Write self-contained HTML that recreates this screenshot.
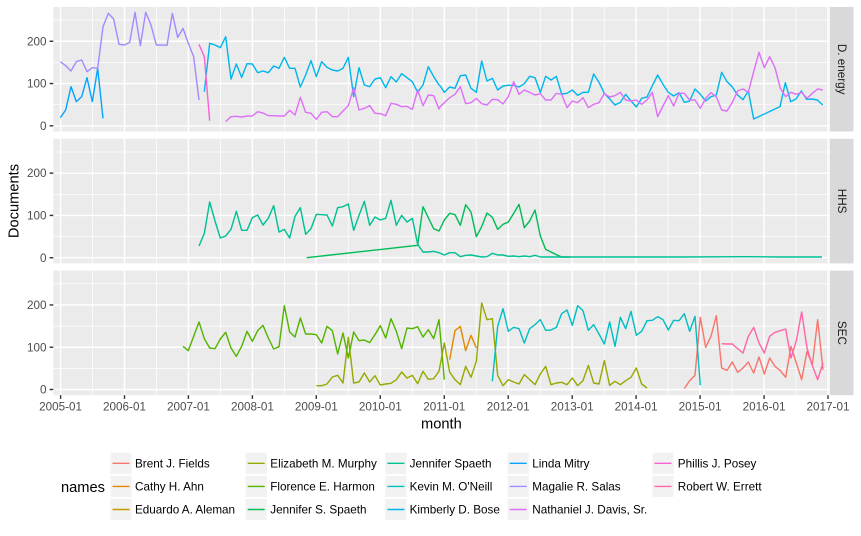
<!DOCTYPE html>
<html>
<head>
<meta charset="utf-8">
<style>
  html, body { margin: 0; padding: 0; background: #ffffff; }
  svg { display: block; }
  text { font-family: "Liberation Sans", "DejaVu Sans", sans-serif; }
  .d { fill: none; stroke-width: 1.42; stroke-linejoin: round; stroke-linecap: butt; vector-effect: non-scaling-stroke; }
  .gmaj { stroke: #ffffff; stroke-width: 1.42; }
  .gmin { stroke: #ffffff; stroke-width: 0.71; }
  .tick { stroke: #333333; stroke-width: 1.42; }
  .tl { font-size: 11.7px; fill: #4D4D4D; }
  .lt { font-size: 11.7px; fill: #000000; }
</style>
</head>
<body>
<svg width="861" height="536" viewBox="0 0 861 536" xmlns="http://www.w3.org/2000/svg">
  <rect x="0" y="0" width="861" height="536" fill="#ffffff"/>
  <defs>
    <g id="grid">
      <rect x="53.3" y="0" width="776.2" height="124.6" fill="#EBEBEB"/>
      <!-- minor horizontal -->
      <line class="gmin" x1="53.3" x2="829.5" y1="97.77" y2="97.77"/>
      <line class="gmin" x1="53.3" x2="829.5" y1="55.5" y2="55.5"/>
      <line class="gmin" x1="53.3" x2="829.5" y1="13.23" y2="13.23"/>
      <!-- minor vertical -->
      <line class="gmin" x1="92.5" x2="92.5" y1="0" y2="124.6"/>
      <line class="gmin" x1="156.4" x2="156.4" y1="0" y2="124.6"/>
      <line class="gmin" x1="220.4" x2="220.4" y1="0" y2="124.6"/>
      <line class="gmin" x1="284.4" x2="284.4" y1="0" y2="124.6"/>
      <line class="gmin" x1="348.3" x2="348.3" y1="0" y2="124.6"/>
      <line class="gmin" x1="412.3" x2="412.3" y1="0" y2="124.6"/>
      <line class="gmin" x1="476.2" x2="476.2" y1="0" y2="124.6"/>
      <line class="gmin" x1="540.2" x2="540.2" y1="0" y2="124.6"/>
      <line class="gmin" x1="604.2" x2="604.2" y1="0" y2="124.6"/>
      <line class="gmin" x1="668.1" x2="668.1" y1="0" y2="124.6"/>
      <line class="gmin" x1="732.1" x2="732.1" y1="0" y2="124.6"/>
      <line class="gmin" x1="796.0" x2="796.0" y1="0" y2="124.6"/>
      <!-- major horizontal -->
      <line class="gmaj" x1="53.3" x2="829.5" y1="118.9" y2="118.9"/>
      <line class="gmaj" x1="53.3" x2="829.5" y1="76.63" y2="76.63"/>
      <line class="gmaj" x1="53.3" x2="829.5" y1="34.36" y2="34.36"/>
      <!-- major vertical -->
      <line class="gmaj" x1="60.6" x2="60.6" y1="0" y2="124.6"/>
      <line class="gmaj" x1="124.5" x2="124.5" y1="0" y2="124.6"/>
      <line class="gmaj" x1="188.4" x2="188.4" y1="0" y2="124.6"/>
      <line class="gmaj" x1="252.4" x2="252.4" y1="0" y2="124.6"/>
      <line class="gmaj" x1="316.3" x2="316.3" y1="0" y2="124.6"/>
      <line class="gmaj" x1="380.3" x2="380.3" y1="0" y2="124.6"/>
      <line class="gmaj" x1="444.3" x2="444.3" y1="0" y2="124.6"/>
      <line class="gmaj" x1="508.2" x2="508.2" y1="0" y2="124.6"/>
      <line class="gmaj" x1="572.2" x2="572.2" y1="0" y2="124.6"/>
      <line class="gmaj" x1="636.1" x2="636.1" y1="0" y2="124.6"/>
      <line class="gmaj" x1="700.1" x2="700.1" y1="0" y2="124.6"/>
      <line class="gmaj" x1="764.1" x2="764.1" y1="0" y2="124.6"/>
      <line class="gmaj" x1="828.0" x2="828.0" y1="0" y2="124.6"/>
      <!-- y ticks -->
      <line class="tick" x1="49.6" x2="53.3" y1="118.9" y2="118.9"/>
      <line class="tick" x1="49.6" x2="53.3" y1="76.63" y2="76.63"/>
      <line class="tick" x1="49.6" x2="53.3" y1="34.36" y2="34.36"/>
      <text class="tl" x="46.5" y="123" text-anchor="end">0</text>
      <text class="tl" x="46.5" y="80.7" text-anchor="end">100</text>
      <text class="tl" x="46.5" y="38.4" text-anchor="end">200</text>
      <!-- strip -->
      <rect x="830" y="0" width="23.5" height="124.6" fill="#D9D9D9"/>
    </g>
  </defs>

  <use href="#grid" transform="translate(0,6.9)"/>
  <use href="#grid" transform="translate(0,138.8)"/>
  <use href="#grid" transform="translate(0,270.6)"/>

  <!-- strip labels -->
  <text x="841.5" y="69.2" font-size="11.7" fill="#1A1A1A" text-anchor="middle" dominant-baseline="central" transform="rotate(90 841.5 69.2)">D. energy</text>
  <text x="841.5" y="201.1" font-size="11.7" fill="#1A1A1A" text-anchor="middle" dominant-baseline="central" transform="rotate(90 841.5 201.1)">HHS</text>
  <text x="841.5" y="332.9" font-size="11.7" fill="#1A1A1A" text-anchor="middle" dominant-baseline="central" transform="rotate(90 841.5 332.9)">SEC</text>

  <!-- ===== Panel 1: D. energy ===== -->
  <g transform="translate(53,5) scale(0.333333)">
    <!-- Kimberly / Linda early (blue) -->
    <polyline class="d" stroke="#06A4FF" points="22,338 38,315 54,245 70,290 86,275 102,218 118,290 134,190 150,340"/>
    <polyline class="d" stroke="#00B6EB" points="454,260 470,115 486,120 502,128 518,95 534,222 550,177 566,217 582,176 598,177 614,203 630,198 646,203 662,183 678,190 694,157 710,190 726,190 742,246 758,210 774,167 790,215 806,170 822,187 838,195 854,198 870,190 886,157 902,275 918,188 934,240 950,245 966,222 982,218 998,248 1014,215 1030,231 1046,206 1062,218 1078,230 1094,262 1110,240 1126,185 1142,215 1158,240 1161,242"/>
    <!-- Magalie R. Salas -->
    <polyline class="d" stroke="#A58AFF" points="22,170 38,182 54,198 70,170 86,165 102,200 118,188 134,190 150,65 166,25 182,42 198,118 214,120 230,112 246,22 262,122 278,22 294,60 310,120 326,120 342,121 358,25 374,97 390,70 406,115 422,155 438,285"/>
    <!-- Nathaniel J. Davis, Sr. -->
    <polyline class="d" stroke="#DF70F8" points="518,350 534,335 550,334 566,336 582,333 598,333 614,320 630,324 646,332 662,332 678,333 694,333 710,316 726,330 742,277 758,322 774,325 790,343 806,322 822,320 838,335 854,335 870,318 886,302 902,248 918,315 934,310 950,302 966,325 982,326 998,332 1014,295 1030,298 1046,305 1062,304 1078,313 1094,255 1110,302 1126,270 1142,272 1158,312 1161,305"/>
    <!-- Phillis J. Posey -->
    <polyline class="d" stroke="#FB61D7" points="438,118 454,155 470,347"/>
  </g>
  <g transform="translate(440,5) scale(0.333333)">
    <polyline class="d" stroke="#00B6EB" points="0,242 13,262 29,246 45,250 61,212 77,210 93,250 109,262 125,168 141,228 157,220 173,255 189,243 205,241 221,241 237,246 253,236 269,214 285,218 301,262 317,214 333,225 349,214 365,267 381,265 397,255 413,271 429,262 445,262 461,207 477,232 493,265 509,282 525,300 541,292 557,268 573,288 589,306 605,280 621,276 637,242 653,210 669,238 685,262 701,273 717,263 733,292 749,288 765,252 781,268 797,288 813,275 829,270 845,202 861,230 877,246 893,270 909,284 925,258 941,342 1020,305 1036,233 1052,290 1068,282 1084,258 1100,283 1116,282 1132,285 1148,300"/>
    <polyline class="d" stroke="#DF70F8" points="0,305 13,293 29,278 45,268 61,245 77,296 93,293 109,280 125,296 141,300 157,283 173,284 189,297 205,275 221,230 237,268 253,255 269,262 285,270 301,266 317,285 333,285 349,265 365,268 381,308 397,288 413,293 429,278 445,308 461,298 477,293 493,266 509,276 525,272 541,262 557,285 573,288 589,285 605,298 621,285 637,262 653,335 669,303 685,272 701,303 717,265 733,265 749,285 765,285 781,310 797,280 813,263 829,275 845,315 861,318 877,292 893,258 909,252 925,262 941,200 957,142 973,188 989,155 1005,188 1021,250 1037,275 1053,262 1069,268 1085,262 1101,280 1117,265 1133,252 1148,255"/>
  </g>

  <!-- ===== Panel 2: HHS ===== -->
  <g transform="translate(180,136) scale(0.333333)">
    <!-- Jennifer S. Spaeth -->
    <polyline class="d" stroke="#00BC56" points="380,365 713,328 729,212 745,245 761,278 777,285 793,252 809,232 825,236 841,268 857,206 873,228 889,302 905,272 921,231 937,244 953,280 969,265 985,258 1001,232 1017,205 1033,275 1049,255 1065,222 1081,300 1097,340 1113,348 1129,356 1145,363 1170,363"/>
    <!-- Jennifer Spaeth -->
    <polyline class="d" stroke="#00C094" points="57,330 73,292 89,198 105,255 121,306 137,300 153,280 169,226 185,283 201,283 217,245 233,237 249,267 265,247 281,209 297,288 313,280 329,306 345,241 361,215 377,295 393,278 409,235 425,236 441,237 457,270 473,215 489,212 505,204 521,283 537,238 553,196 569,268 585,243 601,252 617,247 633,193 649,268 665,238 681,258 697,247 713,325 729,348 745,348 761,346 777,350 793,357 809,350 825,350 841,362 857,358 873,357 889,360 905,363 921,362 937,352 953,357 969,357 985,361 1001,360 1017,362 1033,360 1049,362 1065,358 1081,363 1097,363 1300,363 1500,363 1700,362 1800,363 1926,363"/>
  </g>

  <!-- ===== Panel 3: SEC ===== -->
  <g transform="translate(53,268) scale(0.333333)">
    <!-- Elizabeth M. Murphy -->
    <polyline class="d" stroke="#99A800" points="790,353 806,353 822,348 838,327 854,322 870,345 886,208 902,345 918,342 934,315 950,342 966,323 982,351 998,348 1014,346 1030,335 1046,312 1062,330 1078,322 1094,347 1110,310 1126,334 1142,332 1158,310"/>
    <!-- Florence E. Harmon -->
    <polyline class="d" stroke="#53B400" points="390,235 406,248 422,205 438,162 454,212 470,240 486,242 502,213 518,193 534,240 550,265 566,235 582,190 598,220 614,188 630,172 646,210 662,243 678,236 694,113 710,192 726,207 742,150 758,198 774,198 790,200 806,225 822,175 838,188 854,258 870,195 886,270 902,192 918,218 934,216 950,224 966,200 982,173 998,210 1014,152 1030,190 1046,242 1062,180 1078,182 1094,176 1110,207 1126,185 1142,212 1158,155 1174,335"/>
  </g>
  <g transform="translate(440,268) scale(0.333333)">
    <!-- Brent J. Fields -->
    <polyline class="d" stroke="#F8766D" points="733,362 749,338 765,322 781,148 797,238 813,205 829,143 845,300 861,307 877,282 893,313 909,300 925,282 941,315 957,267 973,318 989,270 1005,295 1021,308 1037,328 1053,235 1069,285 1085,335 1101,250 1117,290 1133,155 1149,305"/>
    <!-- Cathy H. Ahn -->
    <polyline class="d" stroke="#E38900" points="29,275 45,188 61,175 77,248 93,202 109,240"/>
    <!-- Elizabeth M. Murphy -->
    <polyline class="d" stroke="#99A800" points="-3,310 13,225 29,312 45,335 61,350 77,295 93,328 109,280 125,105 141,155 157,152 173,322 189,353 205,335 221,342 237,348 253,320 269,335 285,350 301,318 317,295 333,350 349,345 365,343 381,350 397,330 413,353 429,338 445,292 461,345 477,348 493,278 509,352 525,340 541,350 557,338 573,328 589,300 605,348 621,360"/>
    <!-- Kevin M. O'Neill -->
    <polyline class="d" stroke="#00BFC4" points="157,340 173,175 189,122 205,190 221,178 237,182 253,225 269,182 285,170 301,155 317,187 333,186 349,178 365,137 381,126 397,172 413,113 429,128 445,187 461,170 477,198 493,228 509,162 525,235 541,148 557,182 573,130 589,202 605,190 621,158 637,157 653,146 669,155 685,186 701,157 717,158 733,137 749,190 765,145 781,352"/>
    <!-- Robert W. Errett -->
    <polyline class="d" stroke="#FF66A8" points="845,227 861,228 877,228 893,242 909,255 925,205 941,178 957,225 973,255 989,205 1005,193 1021,188 1037,183 1053,270 1069,218 1085,132 1101,240 1117,293 1133,335 1149,285"/>
  </g>

  <!-- x axis ticks + labels -->
  <g>
    <line class="tick" x1="60.6" x2="60.6" y1="395.2" y2="398.9"/>
    <line class="tick" x1="124.5" x2="124.5" y1="395.2" y2="398.9"/>
    <line class="tick" x1="188.4" x2="188.4" y1="395.2" y2="398.9"/>
    <line class="tick" x1="252.4" x2="252.4" y1="395.2" y2="398.9"/>
    <line class="tick" x1="316.3" x2="316.3" y1="395.2" y2="398.9"/>
    <line class="tick" x1="380.3" x2="380.3" y1="395.2" y2="398.9"/>
    <line class="tick" x1="444.3" x2="444.3" y1="395.2" y2="398.9"/>
    <line class="tick" x1="508.2" x2="508.2" y1="395.2" y2="398.9"/>
    <line class="tick" x1="572.2" x2="572.2" y1="395.2" y2="398.9"/>
    <line class="tick" x1="636.1" x2="636.1" y1="395.2" y2="398.9"/>
    <line class="tick" x1="700.1" x2="700.1" y1="395.2" y2="398.9"/>
    <line class="tick" x1="764.1" x2="764.1" y1="395.2" y2="398.9"/>
    <line class="tick" x1="828.0" x2="828.0" y1="395.2" y2="398.9"/>
    <text class="tl" x="60.6" y="410.3" text-anchor="middle">2005-01</text>
    <text class="tl" x="124.5" y="410.3" text-anchor="middle">2006-01</text>
    <text class="tl" x="188.4" y="410.3" text-anchor="middle">2007-01</text>
    <text class="tl" x="252.4" y="410.3" text-anchor="middle">2008-01</text>
    <text class="tl" x="316.3" y="410.3" text-anchor="middle">2009-01</text>
    <text class="tl" x="380.3" y="410.3" text-anchor="middle">2010-01</text>
    <text class="tl" x="444.3" y="410.3" text-anchor="middle">2011-01</text>
    <text class="tl" x="508.2" y="410.3" text-anchor="middle">2012-01</text>
    <text class="tl" x="572.2" y="410.3" text-anchor="middle">2013-01</text>
    <text class="tl" x="636.1" y="410.3" text-anchor="middle">2014-01</text>
    <text class="tl" x="700.1" y="410.3" text-anchor="middle">2015-01</text>
    <text class="tl" x="764.1" y="410.3" text-anchor="middle">2016-01</text>
    <text class="tl" x="828.0" y="410.3" text-anchor="middle">2017-01</text>
  </g>

  <!-- axis titles -->
  <text x="441.4" y="428.3" font-size="14.67" fill="#000000" text-anchor="middle">month</text>
  <text x="18.5" y="201" font-size="14.67" fill="#000000" text-anchor="middle" transform="rotate(-90 18.5 201)">Documents</text>

  <!-- legend -->
  <text x="61" y="492.2" font-size="14.67" fill="#000000">names</text>
  <g>
    <!-- column 1 -->
    <rect x="110.4" y="452.7" width="21.2" height="21.2" fill="#F2F2F2"/>
    <line x1="112.5" x2="129.5" y1="463.3" y2="463.3" stroke="#F8766D" stroke-width="1.42"/>
    <text class="lt" x="135" y="467.4">Brent J. Fields</text>
    <rect x="110.4" y="475.8" width="21.2" height="21.2" fill="#F2F2F2"/>
    <line x1="112.5" x2="129.5" y1="486.4" y2="486.4" stroke="#E38900" stroke-width="1.42"/>
    <text class="lt" x="135" y="490.5">Cathy H. Ahn</text>
    <rect x="110.4" y="498.9" width="21.2" height="21.2" fill="#F2F2F2"/>
    <line x1="112.5" x2="129.5" y1="509.5" y2="509.5" stroke="#C49A00" stroke-width="1.42"/>
    <text class="lt" x="135" y="513.6">Eduardo A. Aleman</text>

    <!-- column 2 -->
    <rect x="245.6" y="452.7" width="21.2" height="21.2" fill="#F2F2F2"/>
    <line x1="247.7" x2="264.7" y1="463.3" y2="463.3" stroke="#99A800" stroke-width="1.42"/>
    <text class="lt" x="270.3" y="467.4">Elizabeth M. Murphy</text>
    <rect x="245.6" y="475.8" width="21.2" height="21.2" fill="#F2F2F2"/>
    <line x1="247.7" x2="264.7" y1="486.4" y2="486.4" stroke="#53B400" stroke-width="1.42"/>
    <text class="lt" x="270.3" y="490.5">Florence E. Harmon</text>
    <rect x="245.6" y="498.9" width="21.2" height="21.2" fill="#F2F2F2"/>
    <line x1="247.7" x2="264.7" y1="509.5" y2="509.5" stroke="#00BC56" stroke-width="1.42"/>
    <text class="lt" x="270.3" y="513.6">Jennifer S. Spaeth</text>

    <!-- column 3 -->
    <rect x="385.3" y="452.7" width="21.2" height="21.2" fill="#F2F2F2"/>
    <line x1="387.4" x2="404.4" y1="463.3" y2="463.3" stroke="#00C094" stroke-width="1.42"/>
    <text class="lt" x="409.6" y="467.4">Jennifer Spaeth</text>
    <rect x="385.3" y="475.8" width="21.2" height="21.2" fill="#F2F2F2"/>
    <line x1="387.4" x2="404.4" y1="486.4" y2="486.4" stroke="#00BFC4" stroke-width="1.42"/>
    <text class="lt" x="409.6" y="490.5">Kevin M. O'Neill</text>
    <rect x="385.3" y="498.9" width="21.2" height="21.2" fill="#F2F2F2"/>
    <line x1="387.4" x2="404.4" y1="509.5" y2="509.5" stroke="#00B6EB" stroke-width="1.42"/>
    <text class="lt" x="409.6" y="513.6">Kimberly D. Bose</text>

    <!-- column 4 -->
    <rect x="507.6" y="452.7" width="21.2" height="21.2" fill="#F2F2F2"/>
    <line x1="509.7" x2="526.7" y1="463.3" y2="463.3" stroke="#06A4FF" stroke-width="1.42"/>
    <text class="lt" x="532.3" y="467.4">Linda Mitry</text>
    <rect x="507.6" y="475.8" width="21.2" height="21.2" fill="#F2F2F2"/>
    <line x1="509.7" x2="526.7" y1="486.4" y2="486.4" stroke="#A58AFF" stroke-width="1.42"/>
    <text class="lt" x="532.3" y="490.5">Magalie R. Salas</text>
    <rect x="507.6" y="498.9" width="21.2" height="21.2" fill="#F2F2F2"/>
    <line x1="509.7" x2="526.7" y1="509.5" y2="509.5" stroke="#DF70F8" stroke-width="1.42"/>
    <text class="lt" x="532.3" y="513.6">Nathaniel J. Davis, Sr.</text>

    <!-- column 5 -->
    <rect x="652.4" y="452.7" width="21.2" height="21.2" fill="#F2F2F2"/>
    <line x1="654.5" x2="671.5" y1="463.3" y2="463.3" stroke="#FB61D7" stroke-width="1.42"/>
    <text class="lt" x="677.8" y="467.4">Phillis J. Posey</text>
    <rect x="652.4" y="475.8" width="21.2" height="21.2" fill="#F2F2F2"/>
    <line x1="654.5" x2="671.5" y1="486.4" y2="486.4" stroke="#FF66A8" stroke-width="1.42"/>
    <text class="lt" x="677.8" y="490.5">Robert W. Errett</text>
  </g>
</svg>
</body>
</html>
